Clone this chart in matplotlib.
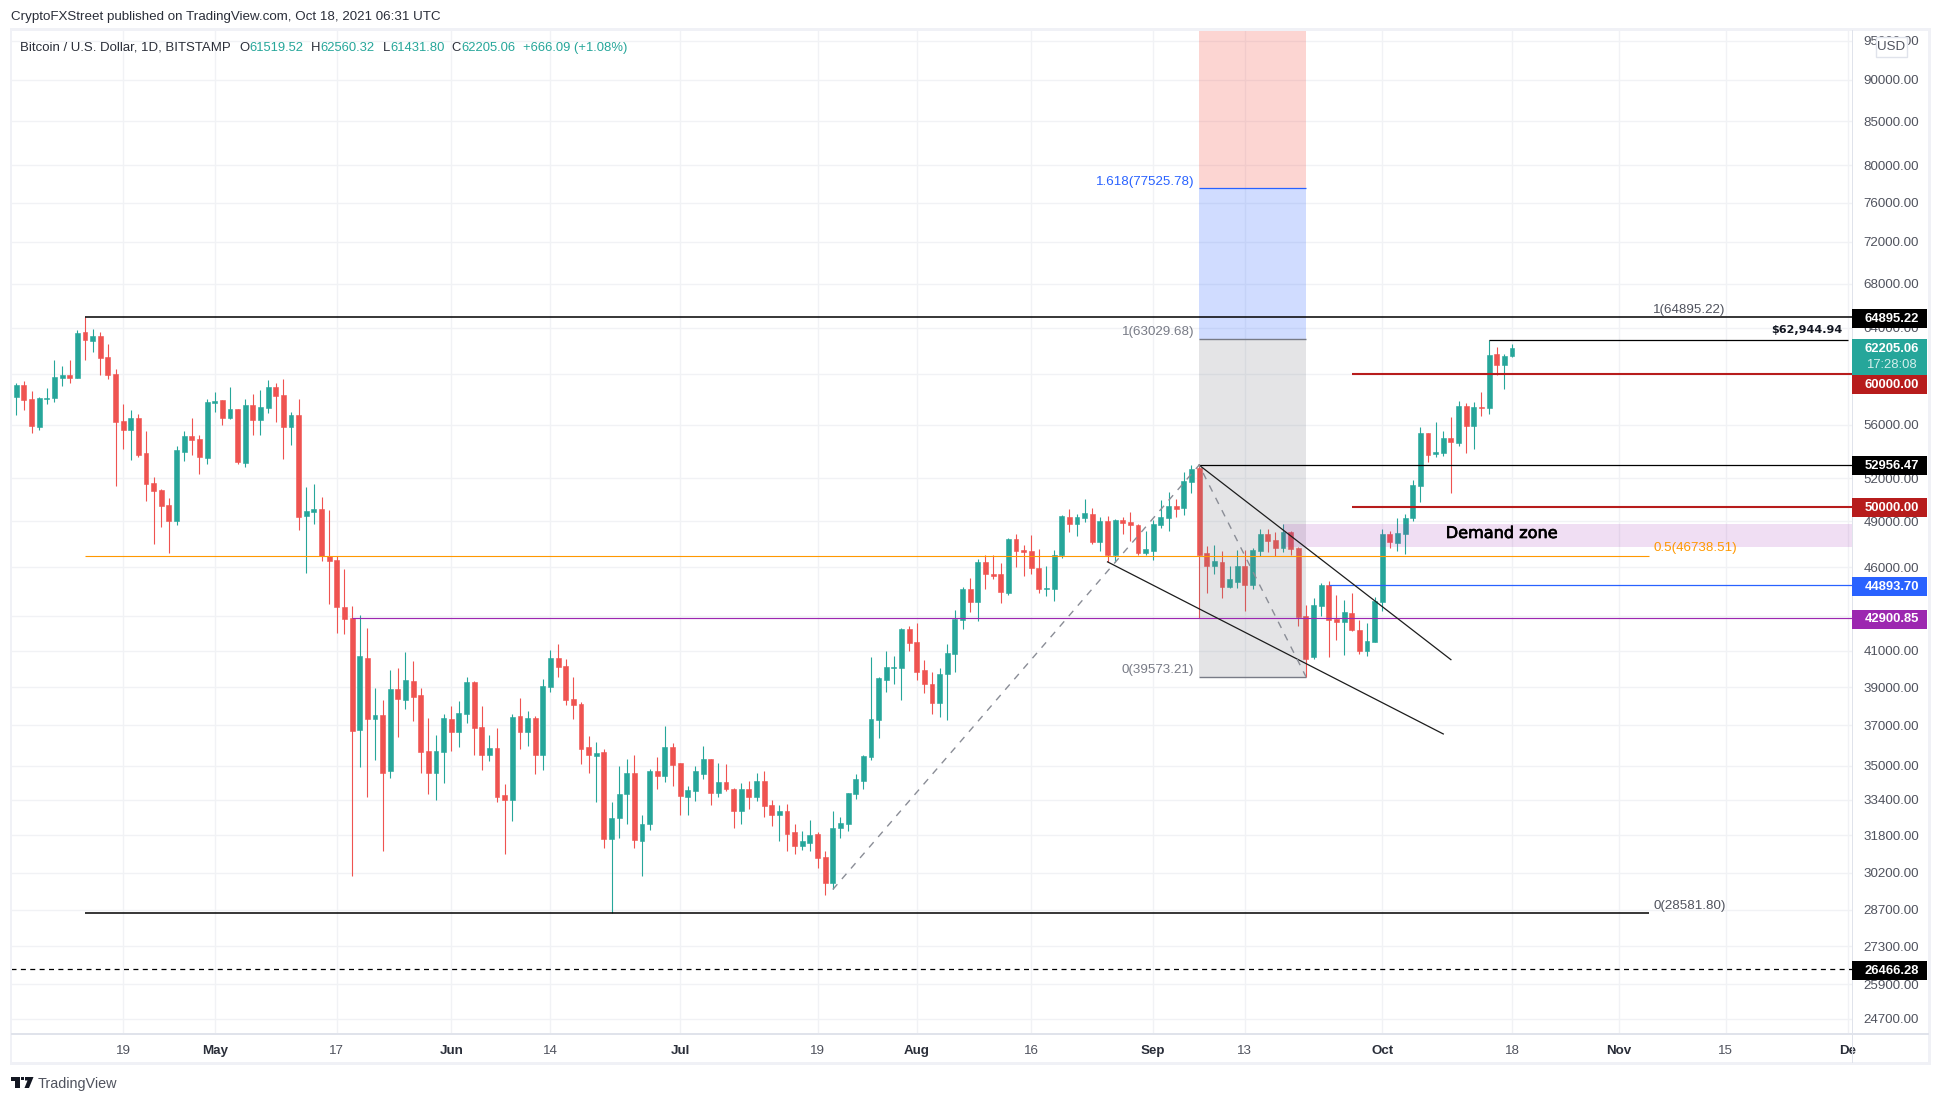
import matplotlib
matplotlib.use("Agg")
import matplotlib.pyplot as plt
import matplotlib.dates as mdates
import matplotlib.ticker as mticker
import matplotlib.patheffects as pe
from matplotlib.patches import Rectangle, Polygon
from matplotlib.transforms import Affine2D
import pandas as pd

# ---------- data ----------
first_day = "2021-04-05"
opens = [58190,59150,58030,55840,58030,58110,59720,59970,59720,63640,
 62850,63290,61480,60060,56300,55610,56530,53870,51690,51200,
 50150,49060,53940,55150,54920,53500,57710,57950,56530,57230,
 53140,57550,56370,57310,58990,58350,55840,56760,49390,49660,
 49870,46730,46490,43570,42930,36790,40580,37310,37520,34730,
 38880,38340,39310,38610,35700,34640,35650,37310,36690,37570,
 39260,36900,35510,35850,33600,33410,37470,36690,37360,35550,
 38990,40580,40180,38400,38130,35900,35460,35650,31630,32560,
 33690,34680,31580,32290,34730,34490,35940,35120,33510,33790,
 34630,35310,33700,34250,33880,32870,33880,33510,34300,33140,
 32730,32870,31940,31360,31490,31850,30860,29770,32110,32290,
 33650,34300,35410,37260,39410,40020,40020,42230,41530,39910,
 39200,38140,39740,40850,42810,44680,43830,46310,45610,45550,
 44390,47860,47130,47070,45990,44620,44680,46760,49330,48860,
 49260,49530,47660,49060,46820,49130,48990,48790,46940,47070,
 48790,49260,50080,49950,51770,52780,46940,46060,46370,44790,
 45110,46060,44920,47070,48190,47790,47270,48320,47270,43040,
 40680,43590,44920,42870,42690,43170,42180,41020,41530,43830,
 48190,47590,48190,49260,51470,55380,53790,53860,55000,54610,
 57470,55910,57400,57320,61730,60820,61519.52]
highs = [59310,59470,58670,58190,58910,61230,60730,61230,63810,64895,
 63900,63640,62580,60480,57630,57150,56830,55530,52110,51270,
 50640,54380,55530,56530,55220,58030,58590,57950,58990,57230,
 58030,58430,58750,59550,59310,59640,56990,58030,51410,51620,
 50710,49800,46730,45920,43640,43050,42340,38940,38340,39960,
 40020,40920,40460,38940,37360,36540,37570,37980,38290,39530,
 39310,37980,36540,36850,34120,37570,38450,37720,37470,39420,
 41080,41370,40520,39580,38240,36490,36150,35800,33320,35010,
 35310,35550,32730,34830,35410,36960,36140,35120,34020,34970,
 35990,35310,35120,35070,33970,34160,34300,34680,34730,33370,
 33140,33190,32290,31980,32470,31930,31110,32910,32640,33700,
 34590,35510,40640,39580,40970,40690,42290,42460,42620,40470,
 39800,40020,41420,43400,44800,45350,46560,46820,46820,46250,
 47930,48190,47460,48120,47200,46060,47130,49460,49880,49530,
 50570,49950,49330,49400,49190,49330,49660,48860,48330,49130,
 50440,51050,50570,52420,52956,52956,47400,47470,47070,46060,
 47130,47130,47270,48520,48520,48320,48850,48390,47340,43650,
 44070,45050,45170,44290,44000,44430,42810,42630,44140,48520,
 48390,49260,49540,51910,55830,55380,56210,55530,56600,57860,
 57700,57780,58590,62944.94,62340,61730,62560.32]
lows = [56760,57150,55380,55610,57630,57790,59070,59310,59700,61230,
 61900,59970,59640,51480,54160,53360,53580,50430,47520,48660,
 46940,48790,53290,53720,52320,53060,56990,55990,56450,53060,
 52850,55220,55220,56910,56220,53430,54460,48460,45650,48860,
 46430,43760,42050,41990,30060,34960,33510,35260,31110,34400,
 36440,37830,37210,34680,33650,33410,34170,35700,35900,37150,
 35550,34820,35210,33320,30980,32420,35800,35950,34620,34780,
 38720,39530,38080,37310,35110,34680,33320,31240,28590,31670,
 32290,31240,30060,32020,33880,34210,34020,32690,32690,33330,
 34390,33140,33510,33790,32110,32290,33000,33330,32640,32200,
 31580,31110,30980,31150,31110,30390,29290,29530,31670,31980,
 33420,33880,35260,36350,38770,39190,38300,40970,39410,38670,
 37610,37460,37260,39850,42230,43280,42750,44620,45290,43770,
 44280,46000,45480,45610,44390,44200,43900,46620,48270,48060,
 48990,47530,47070,46310,46310,48190,47730,46820,46760,46500,
 48590,48330,49330,49460,50970,42900,44430,45550,44070,44730,
 44730,43330,44670,46750,47000,46750,47000,46810,42410,39570,
 40570,43040,40680,41650,40790,42120,40850,40740,41480,43310,
 47270,47070,46880,49050,50360,53210,53580,53650,50990,54380,
 53860,54170,56660,56840,59990,58820,61431.80]
closes = [59150,57950,55910,58110,58110,59800,59970,59720,63550,62930,
 63290,61400,59970,56220,55610,56530,53720,51620,51130,50080,
 49060,54090,55150,54840,53580,57790,57870,56530,57230,53210,
 57550,56370,57390,58990,58270,55840,56760,49330,49730,49870,
 46730,46430,43570,42870,36740,40690,37310,37520,34680,38880,
 38400,39370,38500,35650,34640,35700,37360,36690,37620,39260,
 36850,35510,35850,33550,33410,37420,36690,37360,35510,39040,
 40580,40120,38340,38080,35800,35510,35610,31630,32560,33690,
 34680,31590,32290,34730,34490,35940,35020,33560,33840,34730,
 35310,33700,34250,33880,32870,33880,33510,34300,33100,32730,
 32870,31850,31360,31540,31800,30810,29770,32150,32330,33700,
 34350,35460,37310,39520,40080,40080,42230,41470,39800,39150,
 38140,39740,40910,42870,44620,43830,46310,45550,45480,44440,
 47860,47070,47000,45930,44680,44740,46820,49400,48860,49330,
 49600,47660,49060,46820,49130,48930,48790,46940,47200,48860,
 49330,50080,49880,51830,52700,46810,46060,46430,44790,45240,
 46060,44920,47130,48190,47730,47270,48320,47200,42980,40570,
 43650,44920,42810,42690,43230,42180,41020,41590,43890,48190,
 47660,48260,49260,51540,55380,53720,53940,55000,54690,57470,
 55910,57400,57320,61650,60820,61570,62205.06]

price_ticks = [24700,25900,27300,28700,30200,31800,33400,35000,37000,39000,41000,43000,
               46000,49000,52000,56000,60000,64000,68000,72000,76000,80000,85000,90000,95000]
date_ticks = ["2021-04-19","2021-05-01","2021-05-17","2021-06-01","2021-06-14","2021-07-01",
              "2021-07-19","2021-08-01","2021-08-16","2021-09-01","2021-09-13","2021-10-01",
              "2021-10-18","2021-11-01","2021-11-15","2021-12-01"]
date_labels = ["19","May","17","Jun","14","Jul","19","Aug","16","Sep","13","Oct","18","Nov","15","De"]
major_labels = {"May","Jun","Jul","Aug","Sep","Oct","Nov","De"}

level_ath = 64895.22
level_fib_mid = 46738.51
level_fib_low = 28581.80
level_support = 42900.85
level_blue = 44893.70
level_swing = 52956.47
level_recent = 62944.94
level_red_hi = 60000.00
level_red_lo = 50000.00
level_dash = 26466.28
ext_top = 77525.78
ext_mid = 63029.68
ext_low = 39573.21
demand_top = 48850
demand_bottom = 47340

wedge_upper_dates = ["2021-09-07","2021-10-10"]
wedge_upper_prices = [52956.47,40510]
wedge_lower_dates = ["2021-08-26","2021-10-09"]
wedge_lower_prices = [46350,36570]
trend_dates = ["2021-07-21","2021-09-07","2021-09-21"]
trend_prices = [29520,52956.47,39573.21]

# ---------- style ----------
UP = "#26a69a"; DOWN = "#ef5350"; GRID = "#f1f2f5"; EDGE = "#e0e3eb"; TXT = "#50535e"
W, H = 1941, 1103
plt.rcParams["font.family"] = ["Liberation Sans", "DejaVu Sans"]
fig = plt.figure(figsize=(W/100, H/100), dpi=100, facecolor="white")
T = Affine2D().scale(1/W, -1/H).translate(0, 1) + fig.transFigure
L, R, TOP, BOT = 11, 1852.3, 30, 1033.5
ax = fig.add_axes([L/W, 1-BOT/H, (R-L)/W, (BOT-TOP)/H])

dates = pd.date_range(first_day, periods=len(opens))
xs = mdates.date2num(dates)
x0 = xs[0]
to_num = lambda d: mdates.date2num(pd.Timestamp(d))

ax.set_yscale("log")
ax.set_ylim(24210, 96408)
ax.set_xlim(x0-0.695, x0+240.6)

# candles
for x, o, h, l, c in zip(xs, opens, highs, lows, closes):
    col = UP if c >= o else DOWN
    ax.vlines(x, l, h, color=col, lw=0.8, zorder=3)
    ax.bar(x, abs(c-o), bottom=min(o, c), width=0.64, color=col, linewidth=0.4, edgecolor=col, zorder=3)

# grid + axes
ax.xaxis.set_major_locator(mticker.FixedLocator([to_num(d) for d in date_ticks]))
ax.xaxis.set_major_formatter(mticker.FixedFormatter(date_labels))
ax.yaxis.set_major_locator(mticker.FixedLocator(price_ticks))
ax.yaxis.set_major_formatter(mticker.FuncFormatter(lambda v, p: f"{v:.2f}"))
ax.yaxis.set_minor_locator(mticker.NullLocator())
ax.xaxis.set_minor_locator(mticker.NullLocator())
ax.yaxis.tick_right()
ax.tick_params(axis="y", length=0, pad=8, labelsize=9.6, labelcolor=TXT)
ax.tick_params(axis="x", length=0, pad=8.5, labelsize=9.6, labelcolor=TXT)
for lab, txt in zip(ax.get_xticklabels(), date_labels):
    if txt in major_labels:
        lab.set_fontweight("bold")
        lab.set_color("#2a2e39")
ax.grid(True, color=GRID, lw=1, zorder=0)
ax.set_axisbelow(True)
for s in ax.spines.values():
    s.set_visible(False)

# fib extension boxes
d1, d2 = to_num("2021-09-07"), to_num("2021-09-21")
ymax = ax.get_ylim()[1]
ax.fill_between([d1, d2], ext_low, ext_mid, color="#787b86", alpha=0.2, lw=0, zorder=4)
ax.fill_between([d1, d2], ext_mid, ext_top, color="#2962ff", alpha=0.22, lw=0, zorder=4)
ax.fill_between([d1, d2], ext_top, ymax, color="#f44336", alpha=0.22, lw=0, zorder=4)
ax.hlines(ext_top, d1, d2, color="#2962ff", lw=0.9, zorder=5)
ax.hlines([ext_mid, ext_low], d1, d2, color="#787b86", lw=1.0, zorder=5)

# demand zone
xr = x0+240.6
ax.fill_between([to_num("2021-09-18"), xr], demand_bottom, demand_top,
                color="#9c27b0", alpha=0.15, lw=0, zorder=4)

# horizontal levels
ath_d = to_num("2021-04-14")
fib_end = to_num("2021-11-05") - 0.1
ax.hlines(level_ath, ath_d, xr, color="black", lw=1.1, zorder=5)
ax.hlines(level_fib_low, ath_d, fib_end, color="black", lw=1.1, zorder=5)
ax.hlines(level_fib_mid, ath_d, fib_end, color="#ff9800", lw=0.8, zorder=5)
ax.hlines(level_support, to_num("2021-05-19"), xr, color="#9c27b0", lw=0.85, zorder=5)
ax.hlines(level_blue, to_num("2021-09-24"), xr, color="#2962ff", lw=0.9, zorder=5)
ax.hlines(level_swing, d1, xr, color="black", lw=0.9, zorder=5)
ax.hlines(level_recent, to_num("2021-10-15"), to_num("2021-12-01"), color="black", lw=0.9, zorder=5)
ax.hlines([level_red_hi, level_red_lo], to_num("2021-09-27"), xr, color="#b71c1c", lw=1.5, zorder=5)
ax.plot([x0-0.695, xr], [level_dash]*2, color="black", lw=0.9, ls=(0, (4, 3.5)), zorder=5)

# trend lines
ax.plot([to_num(d) for d in wedge_upper_dates], wedge_upper_prices, color="#1c1c1c", lw=0.9, zorder=6)
ax.plot([to_num(d) for d in wedge_lower_dates], wedge_lower_prices, color="#1c1c1c", lw=0.9, zorder=6)
ax.plot([to_num(d) for d in trend_dates], trend_prices, color="#8a8d96", lw=1.0, ls=(0, (5, 5)), zorder=6)

# ---------- frame ----------
def frect(x, y, w, h, **kw):
    fig.add_artist(Rectangle((x, y), w, h, transform=T, **kw))
def ftext(x, y, s, **kw):
    kw.setdefault("va", "center"); kw.setdefault("fontsize", 9.6)
    return fig.text(x, y, s, transform=T, **kw)

for r in [(9.5, 28, 1921, 2.5), (9.5, 1062, 1921, 2.5), (9.5, 28, 2.5, 1036), (1928, 28, 2.5, 1036)]:
    frect(*r, facecolor="#f0f1f6", edgecolor="none", zorder=2)
frect(1851.5, 30, 1.5, 1033, facecolor=EDGE, edgecolor="none", zorder=2)
frect(11, 1033, 1918, 1.5, facecolor=EDGE, edgecolor="none", zorder=2)

# price labels on the scale
def price_box(cy, txt, col, h=19):
    frect(1852.3, cy-h/2, 74.4, h, facecolor=col, edgecolor="none", zorder=2.5)
    ftext(1892, cy+0.5, txt, color="white", ha="center", fontweight="bold", fontsize=9.4, zorder=4)

price_box(318, "64895.22", "#000000")
frect(1852.3, 339, 74.4, 35.5, facecolor=UP, edgecolor="none", zorder=2.5)
ftext(1892, 349, "62205.06", color="white", ha="center", fontweight="bold", fontsize=9.4, zorder=4)
ftext(1891, 365.5, "17:28:08", color="#d4efec", ha="center", fontsize=9.4, zorder=4)
price_box(384, "60000.00", "#b71c1c")
price_box(465.8, "52956.47", "#000000")
price_box(507.8, "50000.00", "#b71c1c")
price_box(586, "44893.70", "#2962ff")
price_box(619, "42900.85", "#9c27b0")
price_box(970, "26466.28", "#000000")

# USD badge
frect(1875.7, 37, 31, 20, facecolor="white", edgecolor="#e0e3eb", lw=1, zorder=2.5)
ftext(1891.5, 47, "USD", color=TXT, ha="center", zorder=4)

# drawing labels
FIB = "#787b86"
ftext(1653, 310, "1(64895.22)", color="#50535e", zorder=4)
ftext(1653, 548, "0.5(46738.51)", color="#ff9800", zorder=4)
ftext(1653, 905.5, "0(28581.80)", color="#50535e", zorder=4)
ftext(1194.5, 181.5, "1.618(77525.78)", color="#2962ff", ha="right", zorder=4)
ftext(1194.5, 332, "1(63029.68)", color=FIB, ha="right", zorder=4)
ftext(1194.5, 669.5, "0(39573.21)", color=FIB, ha="right", zorder=4)
ftext(1502, 533.5, "Demand zone", family="DejaVu Sans", color="black", ha="center", fontsize=11.6, zorder=4,
      path_effects=[pe.withStroke(linewidth=0.5, foreground="black")])
ftext(1842, 330, "$62,944.94", family="DejaVu Sans", fontweight="bold", color="#131722", ha="right", fontsize=8, zorder=4)

# header
ftext(11, 17.3, "CryptoFXStreet published on TradingView.com, Oct 18, 2021 06:31 UTC", color="#2a2e39", fontsize=9.6)
ftext(20, 47.7, "Bitcoin / U.S. Dollar, 1D, BITSTAMP", color="#2a2e39", fontsize=9.5)
for x, s, c in [(239, "O", "#2a2e39"), (249, "61519.52", UP), (311, "H", "#2a2e39"), (320, "62560.32", UP),
                (383, "L", "#2a2e39"), (390, "61431.80", UP), (451, "C", "#2a2e39"), (461, "62205.06", UP),
                (523, "+666.09 (+1.08%)", UP)]:
    ftext(x, 47.7, s, color=c, fontsize=9.4)

# logo + footer
for pts in [[(11, 1077), (20, 1077), (20, 1088), (15, 1088), (15, 1080.5), (11, 1080.5)],
            [(25, 1077), (33.5, 1077), (29, 1088), (24.5, 1088), (27.5, 1080.5), (25, 1080.5)]]:
    fig.add_artist(Polygon(pts, closed=True, transform=T, facecolor="#131722", edgecolor="none"))
fig.add_artist(Rectangle((21, 1077), 3.2, 3.4, transform=T, facecolor="#131722", edgecolor="none"))
ftext(38, 1084, "TradingView", color="#50535e", fontsize=10.4)

fig.savefig("out.png", dpi=100, facecolor="white")
